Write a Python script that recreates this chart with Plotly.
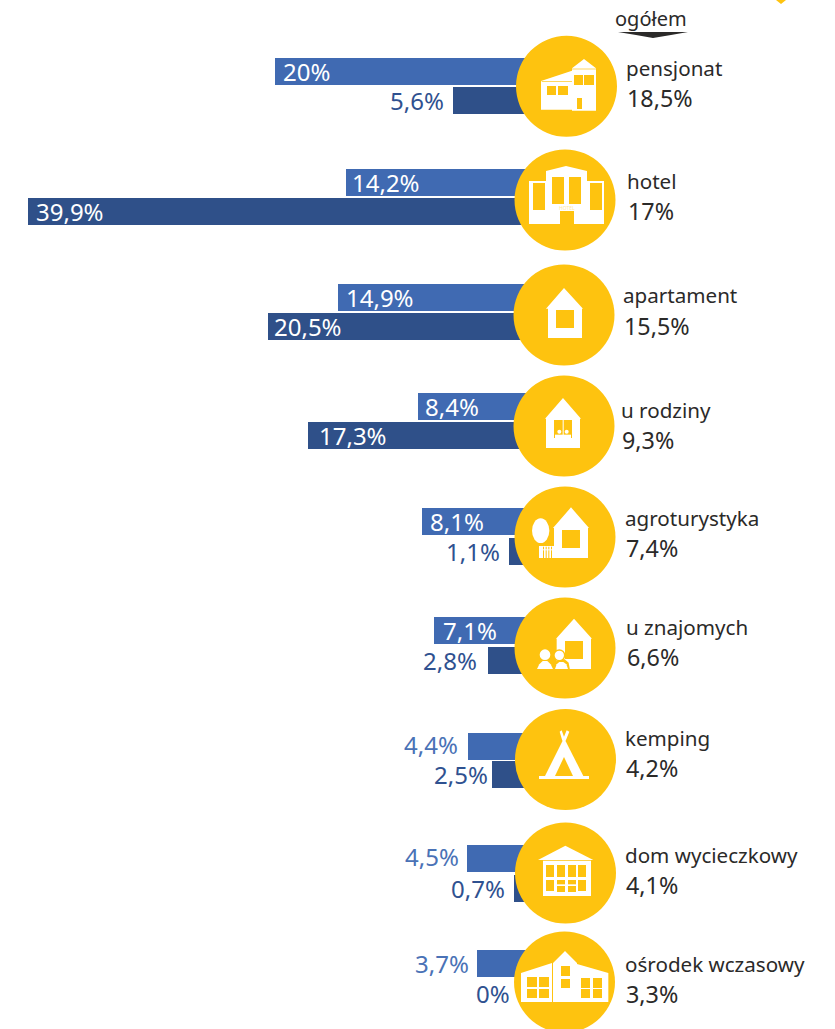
import plotly.graph_objects as go

W, H = 835, 1029

# ---- data ----
categories = ["pensjonat", "hotel", "apartament", "u rodziny", "agroturystyka",
              "u znajomych", "kemping", "dom wycieczkowy", "ośrodek wczasowy"]
overall = ["18,5%", "17%", "15,5%", "9,3%", "7,4%", "6,6%", "4,2%", "4,1%", "3,3%"]
series_light = [20, 14.2, 14.9, 8.4, 8.1, 7.1, 4.4, 4.5, 3.7]
series_dark = [5.6, 39.9, 20.5, 17.3, 1.1, 2.8, 2.5, 0.7, 0]
labels_light = ["20%", "14,2%", "14,9%", "8,4%", "8,1%", "7,1%", "4,4%", "4,5%", "3,7%"]
labels_dark = ["5,6%", "39,9%", "20,5%", "17,3%", "1,1%", "2,8%", "2,5%", "0,7%", "0%"]

# ---- layout of the rows (pixels) ----
light_centre = [71.5, 182.5, 297.5, 406.5, 521.5, 630.5, 746.5, 858.5, 963.5]
dark_centre = [100.5, 211.5, 326.5, 435.5, 551.5, 660.5, 774.5, 888.5, 993.5]
circle_cx = [566.5, 565, 564, 564, 565, 565, 565.5, 565.5, 564.5]
circle_cy = [86.3, 200, 315, 426, 537, 648, 759.5, 873, 982]
CIRCLE_R = 50.5
name_x = [624, 625, 621, 619, 623, 624, 623, 623, 623]
value_x = [625, 626, 622, 620, 624, 625, 624, 624, 624]
name_y = [68, 181, 295, 410, 518, 627, 738, 855, 964]
value_y = [98, 211, 326, 440, 548, 657, 768, 885, 994]
# horizontal offset of each bar label from its bar end (px); negative = left of the bar
shift_light = [6.5, 3.6, 6.3, 4.7, 6, 6.5, -8, -6, -5.6]
shift_dark = [-7.5, 6.3, 3.7, 9, -6.5, -8.5, -2, -6.5, -11]
dy_light = [0, 0, 0, 0, 0, 0, -2, -2, 0]
ORIGIN_PX = 522.5
PX_PER_UNIT = 12.4
BAR_H = 27

LIGHT, DARK, YELLOW = "#406AB2", "#2F5089", "#FEC30F"
TEXT, BLUE_L, BLUE_D = "#2B2A29", "#4A72B6", "#2F5190"
WHITE = "#FFFFFF"
FONT = "Noto Sans"
FS_BAR, FS_NAME, FS_VALUE, FS_HEAD = 24, 20.6, 23.3, 20

fig = go.Figure()
for vals, ys, col, nm in [(series_light, light_centre, LIGHT, "light"),
                          (series_dark, dark_centre, DARK, "dark")]:
    fig.add_bar(x=vals, y=ys, orientation="h", width=BAR_H, marker=dict(color=col, line_width=0),
                name=nm, showlegend=False, hoverinfo="skip")
    # short stub running under the circle so bars meet its edge
    fig.add_bar(x=[-4] * len(ys), y=ys, orientation="h", width=BAR_H,
                marker=dict(color=col, line_width=0), showlegend=False, hoverinfo="skip")


def X(px):
    return px / W


def Y(py):
    return 1 - py / H


def poly(points, color):
    d = "M " + " L ".join(f"{X(x):.5f},{Y(y):.5f}" for x, y in points) + " Z"
    return dict(type="path", path=d, xref="paper", yref="paper", fillcolor=color,
                line_width=0, layer="above")


def ellipse(cx, cy, rx, ry, color):
    return dict(type="circle", xref="paper", yref="paper", x0=X(cx - rx), x1=X(cx + rx),
                y0=Y(cy + ry), y1=Y(cy - ry), fillcolor=color, line_width=0, layer="above")


shapes = []
for cx, cy in zip(circle_cx, circle_cy):
    shapes.append(ellipse(cx, cy, CIRCLE_R, CIRCLE_R, YELLOW))


class Icon:
    """Draw in the coordinates of a 3x crop whose corner is (ox, oy)."""

    def __init__(self, ox, oy):
        self.ox, self.oy = ox, oy

    def p(self, pts, c=WHITE):
        shapes.append(poly([(self.ox + x / 3, self.oy + y / 3) for x, y in pts], c))

    def r(self, x0, y0, x1, y1, c=YELLOW):
        self.p([(x0, y0), (x1, y0), (x1, y1), (x0, y1)], c)

    def e(self, cx, cy, rx, ry, c=WHITE):
        shapes.append(ellipse(self.ox + cx / 3, self.oy + cy / 3, rx / 3, ry / 3, c))


# pensjonat
i = Icon(500, 0)
i.p([(123, 243), (216, 212), (216, 205), (252, 177), (288, 205), (288, 332), (216, 332), (216, 329), (123, 329)])
for b in [(222, 225, 249, 255), (252, 225, 282, 255), (141, 258, 168, 285), (174, 258, 204, 285), (231, 294, 246, 327)]:
    i.r(*b)
i.r(216, 206, 288, 208)
i.r(125, 243, 216, 245)
# hotel
i.p([(87, 543), (138, 543), (138, 513), (198, 498), (261, 513), (261, 543), (312, 543), (312, 672), (222, 672),
     (222, 633), (180, 633), (180, 672), (87, 672)])
for b in [(99, 549, 135, 630), (156, 531, 192, 612), (207, 531, 243, 612), (270, 549, 306, 630)]:
    i.r(*b)
# apartament
i = Icon(500, 260)
i.p([(138, 146), (192, 84), (249, 146), (246, 146), (246, 234), (144, 234), (144, 146)])
i.r(168, 150, 222, 204)
# u rodziny
i.p([(135, 476), (189, 414), (243, 476), (240, 476), (240, 564), (138, 564), (138, 476)])
i.r(162, 480, 216, 534)
i.r(188, 480, 191, 534, WHITE)
i.e(178, 515, 6, 6)
i.e(200, 515, 6, 6)
i.r(165, 524, 213, 534, WHITE)
# agroturystyka
i = Icon(500, 480)
i.p([(159, 144), (213, 82), (267, 144), (264, 144), (264, 234), (162, 234), (162, 144)])
i.r(186, 150, 240, 204)
i.e(122, 152, 26, 37)
i.r(117, 198, 162, 234, WHITE)
for fx in (129, 137, 145, 153):
    i.r(fx, 200, fx + 3, 234)
i.r(117, 208, 162, 211, WHITE)
# u znajomych
i.p([(168, 476), (222, 416), (276, 476), (273, 476), (273, 567), (170, 567), (170, 476)])
i.r(195, 483, 249, 537)
i.e(178, 526, 18, 18, YELLOW)
i.p([(156, 570), (162, 548), (178, 538), (194, 538), (206, 548), (210, 570)], YELLOW)
i.e(135, 524, 16, 16)
i.p([(111, 567), (118, 553), (128, 543), (142, 543), (152, 553), (159, 567)])
i.e(178, 526, 14, 14)
i.p([(165, 567), (170, 553), (178, 546), (190, 546), (199, 553), (204, 567)])
# kemping
i = Icon(500, 700)
i.r(117, 228, 267, 237, WHITE)
i.p([(135, 228), (192, 114), (250, 228)])
i.p([(165, 228), (192, 171), (219, 228)], YELLOW)
i.p([(185, 91), (192, 110), (200, 91), (208, 95), (197, 122), (187, 122), (179, 95)])
# dom wycieczkowy
i = Icon(380, 820)
i.p([(474, 120), (556, 77), (640, 120)])
i.r(489, 122, 633, 228, WHITE)
for x0, x1 in [(498, 522), (531, 555), (564, 588), (594, 618)]:
    i.r(x0, 135, x1, 171)
for x0, x1 in [(498, 522), (594, 618)]:
    i.r(x0, 180, x1, 213)
for x0, x1 in [(531, 555), (564, 588)]:
    i.r(x0, 180, x1, 193)
    i.r(x0, 198, x1, 216)
# osrodek wczasowy
i.p([(423, 459), (516, 429), (516, 546), (423, 546)])
i.p([(519, 546), (519, 429), (555, 393), (591, 429), (591, 432), (685, 459), (685, 546)])
for b in [(441, 471, 471, 501), (477, 471, 507, 501), (441, 507, 471, 534), (477, 507, 507, 534),
          (543, 438, 570, 468), (543, 477, 570, 504), (603, 474, 630, 504), (639, 474, 666, 504),
          (603, 507, 630, 534), (639, 507, 666, 534)]:
    i.r(*b)
# arrow under the header, and the clipped corner mark
shapes.append(poly([(618, 32), (688, 32), (671, 35), (653, 38), (636, 35)], "#2B2A29"))
shapes.append(poly([(776, 0), (786, 0), (781, 4)], YELLOW))

ann = []


def bar_label(text, value, y, shift, color_out, dy=0):
    """White inside the bar when the shift is positive, otherwise to the left of it."""
    inside = shift > 0
    ann.append(dict(x=value, y=y, xref="x", yref="y", text=text, showarrow=False,
                    xanchor="left" if inside else "right", xshift=shift, yshift=-dy,
                    font=dict(family=FONT, size=FS_BAR, color=WHITE if inside else color_out)))


for k in range(len(categories)):
    bar_label(labels_light[k], series_light[k], light_centre[k], shift_light[k], BLUE_L, dy_light[k])
    bar_label(labels_dark[k], series_dark[k], dark_centre[k], shift_dark[k], BLUE_D)
    for txt, xx, yy, fs in ((categories[k], name_x[k], name_y[k], FS_NAME),
                            (overall[k], value_x[k], value_y[k], FS_VALUE)):
        ann.append(dict(x=X(xx), y=Y(yy), xref="paper", yref="paper", text=txt, showarrow=False,
                        xanchor="left", yanchor="middle", font=dict(family=FONT, size=fs, color=TEXT)))
ann.append(dict(x=X(651), y=Y(19), xref="paper", yref="paper", text="ogółem", showarrow=False,
                xanchor="center", yanchor="middle", font=dict(family=FONT, size=FS_HEAD, color=TEXT)))
ann.append(dict(x=X(566.7), y=Y(207.7), xref="paper", yref="paper", text="HOTEL", showarrow=False,
                xanchor="center", yanchor="middle", font=dict(family=FONT, size=5, color="#FFE9A0")))

fig.update_layout(
    width=W, height=H, margin=dict(l=0, r=0, t=0, b=0, pad=0), autosize=False,
    paper_bgcolor="white", plot_bgcolor="white", barmode="overlay", bargap=0,
    xaxis=dict(range=[ORIGIN_PX / PX_PER_UNIT, (ORIGIN_PX - W) / PX_PER_UNIT], visible=False, fixedrange=True),
    yaxis=dict(range=[H, 0], visible=False, fixedrange=True),
    shapes=shapes, annotations=ann, showlegend=False,
)
fig.write_html("out.html", config=dict(displayModeBar=False),
               post_script="document.body.style.margin='0';document.body.style.overflow='hidden';")
